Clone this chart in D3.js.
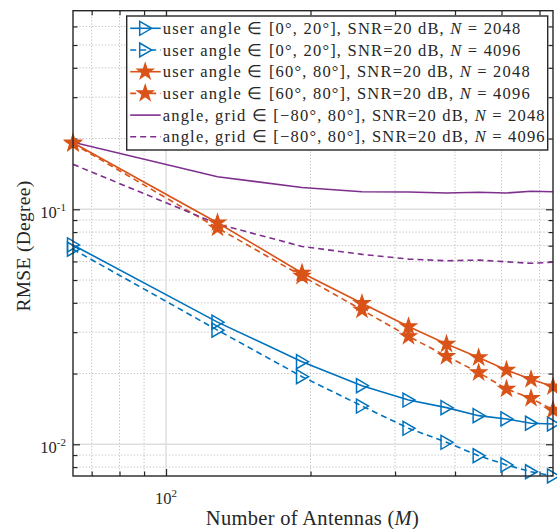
<!DOCTYPE html>
<html>
<head>
<meta charset="utf-8">
<script src="https://cdn.jsdelivr.net/npm/d3@7"></script>
<style>
  html, body { margin: 0; padding: 0; background: #fff; }
  svg { display: block; }
  text { font-family: "Liberation Serif", "Times New Roman", serif; fill: #262626; }
</style>
</head>
<body>
<svg id="chart" width="557" height="529"></svg>
<script>
// Number of antennas M
const antennas = [64, 128, 192, 256, 320, 384, 448, 512, 576, 640];

// RMSE (degree) per configuration
const user0to20_N2048  = [0.0705, 0.0331, 0.02247, 0.01776, 0.01543, 0.01432, 0.01324, 0.01282, 0.01229, 0.0122];
const user0to20_N4096  = [0.0676, 0.0306, 0.0194, 0.01455, 0.0117, 0.0102, 0.00894, 0.00817, 0.00764, 0.00733];
const user60to80_N2048 = [0.192, 0.0877, 0.0536, 0.0398, 0.0317, 0.0267, 0.0234, 0.0207, 0.0189, 0.0176];
const user60to80_N4096 = [0.1905, 0.0833, 0.052, 0.0373, 0.0288, 0.0237, 0.0202, 0.0172, 0.0157, 0.014];
const grid80_N2048     = [0.1928, 0.1376, 0.1238, 0.1188, 0.1185, 0.1173, 0.1181, 0.1173, 0.1193, 0.1188];
const grid80_N4096     = [0.1554, 0.0866, 0.0695, 0.0643, 0.0614, 0.0604, 0.0608, 0.0598, 0.0589, 0.0595];

// Legend entries (segments flagged italic are math variables)
const legendLabels = [
  [{t: "user angle \u2208 [0\u00b0, 20\u00b0], SNR=20 dB, "}, {t: "N", i: true}, {t: " = 2048"}],
  [{t: "user angle \u2208 [0\u00b0, 20\u00b0], SNR=20 dB, "}, {t: "N", i: true}, {t: " = 4096"}],
  [{t: "user angle \u2208 [60\u00b0, 80\u00b0], SNR=20 dB, "}, {t: "N", i: true}, {t: " = 2048"}],
  [{t: "user angle \u2208 [60\u00b0, 80\u00b0], SNR=20 dB, "}, {t: "N", i: true}, {t: " = 4096"}],
  [{t: "angle, grid \u2208 [\u221280\u00b0, 80\u00b0], SNR=20 dB, "}, {t: "N", i: true}, {t: " = 2048"}],
  [{t: "angle, grid \u2208 [\u221280\u00b0, 80\u00b0], SNR=20 dB, "}, {t: "N", i: true}, {t: " = 4096"}]
];

// Axis tick labels
const xTickLabels = [{v: 100, base: "10", exp: "2"}];
const yTickLabels = [{v: 0.1, base: "10", exp: "-1"}, {v: 0.01, base: "10", exp: "-2"}];
const xMinorTicks = [70, 80, 90, 200, 300, 400, 500, 600];
const yMinorTicks = [0.008, 0.009, 0.02, 0.03, 0.04, 0.05, 0.06, 0.07, 0.08, 0.09, 0.2, 0.3, 0.4, 0.5, 0.6];
const xLabel = [{t: "Number of Antennas ("}, {t: "M", i: true}, {t: ")"}];
const yLabel = "RMSE (Degree)";

const blue = "#0072BD", orange = "#D95319", purple = "#7E2F8E";
const series = [
  {values: user0to20_N2048,  color: blue,   dash: null,  marker: "tri"},
  {values: user0to20_N4096,  color: blue,   dash: "6,4", marker: "tri"},
  {values: user60to80_N2048, color: orange, dash: null,  marker: "star"},
  {values: user60to80_N4096, color: orange, dash: "6,4", marker: "star"},
  {values: grid80_N2048,     color: purple, dash: null,  marker: null},
  {values: grid80_N4096,     color: purple, dash: "6,4", marker: null}
];

const svg = d3.select("#chart");
const plot = {left: 73, right: 553, top: 10.7, bottom: 476};

const x = d3.scaleLog().domain([64, 640]).range([plot.left, plot.right]);
const y = d3.scaleLog().domain([0.00733, 0.7]).range([plot.bottom, plot.top]);

svg.append("defs").append("clipPath").attr("id", "clip")
  .append("rect").attr("x", plot.left).attr("y", plot.top)
  .attr("width", plot.right - plot.left).attr("height", plot.bottom - plot.top);

// Grid: minor dotted, major solid
const grid = svg.append("g");
grid.selectAll(".gx").data(xMinorTicks).join("line")
  .attr("x1", d => x(d)).attr("x2", d => x(d)).attr("y1", plot.top).attr("y2", plot.bottom)
  .attr("stroke", "#bdbdbd").attr("stroke-width", 1).attr("stroke-dasharray", "1.2,2");
grid.selectAll(".gy").data(yMinorTicks).join("line")
  .attr("y1", d => y(d)).attr("y2", d => y(d)).attr("x1", plot.left).attr("x2", plot.right)
  .attr("stroke", "#bdbdbd").attr("stroke-width", 1).attr("stroke-dasharray", "1.2,2");
grid.selectAll(".gX").data(xTickLabels).join("line")
  .attr("x1", d => x(d.v)).attr("x2", d => x(d.v)).attr("y1", plot.top).attr("y2", plot.bottom)
  .attr("stroke", "#dedede").attr("stroke-width", 1.5);
grid.selectAll(".gY").data(yTickLabels).join("line")
  .attr("y1", d => y(d.v)).attr("y2", d => y(d.v)).attr("x1", plot.left).attr("x2", plot.right)
  .attr("stroke", "#dedede").attr("stroke-width", 1.5);

// Axes with inward ticks on all four sides
function tickAxis(axisGen, tf) {
  const g = svg.append("g").attr("transform", tf).call(axisGen);
  g.selectAll("text").remove();
  g.select(".domain").remove();
  g.selectAll("line").attr("stroke", "#262626").attr("stroke-width", 1.2);
  return g;
}
const xMaj = xTickLabels.map(d => d.v), yMaj = yTickLabels.map(d => d.v);
tickAxis(d3.axisBottom(x).tickValues(xMinorTicks).tickSize(-4.5), `translate(0,${plot.bottom})`);
tickAxis(d3.axisBottom(x).tickValues(xMaj).tickSize(-7), `translate(0,${plot.bottom})`);
tickAxis(d3.axisTop(x).tickValues(xMinorTicks).tickSize(-4.5), `translate(0,${plot.top})`);
tickAxis(d3.axisTop(x).tickValues(xMaj).tickSize(-7), `translate(0,${plot.top})`);
tickAxis(d3.axisLeft(y).tickValues(yMinorTicks).tickSize(-4.5), `translate(${plot.left},0)`);
tickAxis(d3.axisLeft(y).tickValues(yMaj).tickSize(-7), `translate(${plot.left},0)`);
tickAxis(d3.axisRight(y).tickValues(yMinorTicks).tickSize(-4.5), `translate(${plot.right},0)`);
tickAxis(d3.axisRight(y).tickValues(yMaj).tickSize(-7), `translate(${plot.right},0)`);

// Series lines
const line = d3.line().x((d, i) => x(antennas[i])).y(d => y(d));
const lines = svg.append("g").attr("clip-path", "url(#clip)");
series.forEach(s => {
  lines.append("path").datum(s.values)
    .attr("d", line).attr("fill", "none")
    .attr("stroke", s.color).attr("stroke-width", 1.6)
    .attr("stroke-dasharray", s.dash);
});

// Markers
const triPath = "M-5.5,-7L6.5,0L-5.5,7Z";
const starPath = d3.symbol(d3.symbolStar, 80)();
function drawMarker(g, kind, color) {
  if (kind === "tri") {
    g.append("path").attr("d", triPath).attr("fill", "none")
      .attr("stroke", color).attr("stroke-width", 1.5).attr("stroke-linejoin", "miter");
  } else if (kind === "star") {
    g.append("path").attr("d", starPath).attr("fill", color)
      .attr("stroke", color).attr("stroke-width", 1.2).attr("stroke-linejoin", "miter");
  }
}
const marks = svg.append("g");
series.forEach(s => {
  if (!s.marker) return;
  s.values.forEach((v, i) => {
    const g = marks.append("g").attr("transform", `translate(${x(antennas[i])},${y(v)})`);
    drawMarker(g, s.marker, s.color);
  });
});

// Axes box
svg.append("rect")
  .attr("x", plot.left).attr("y", plot.top)
  .attr("width", plot.right - plot.left).attr("height", plot.bottom - plot.top)
  .attr("fill", "none").attr("stroke", "#262626").attr("stroke-width", 1.4);

// Tick labels with superscript exponents
function powLabel(sel, d) {
  sel.append("tspan").text(d.base);
  sel.append("tspan").attr("dy", -7).attr("font-size", 11).text(d.exp);
}
svg.selectAll(".xtl").data(xTickLabels).join("text")
  .attr("x", d => x(d.v)).attr("y", 504).attr("text-anchor", "middle")
  .attr("font-size", 16.5).each(function(d) { powLabel(d3.select(this), d); });
svg.selectAll(".ytl").data(yTickLabels).join("text")
  .attr("x", 66).attr("y", d => y(d.v) + 9).attr("text-anchor", "end")
  .attr("font-size", 16.5).each(function(d) { powLabel(d3.select(this), d); });

// Axis titles
const xl = svg.append("text").attr("x", 312.5).attr("y", 525).attr("text-anchor", "middle")
  .attr("font-size", 20.5).attr("letter-spacing", 0.3);
xLabel.forEach(s => xl.append("tspan").attr("font-style", s.i ? "italic" : null).text(s.t));
svg.append("text").attr("transform", `translate(30,246) rotate(-90)`)
  .attr("text-anchor", "middle").attr("font-size", 19.5).attr("letter-spacing", 0.3).text(yLabel);

// Legend
const leg = {x: 126.7, y: 16, w: 421, h: 134, row: 21.7};
const lg = svg.append("g");
lg.append("rect").attr("x", leg.x).attr("y", leg.y).attr("width", leg.w).attr("height", leg.h)
  .attr("fill", "#fff").attr("stroke", "#262626").attr("stroke-width", 1.4);
series.forEach((s, i) => {
  const cy = leg.y + 12.3 + i * leg.row;
  lg.append("line").attr("x1", leg.x + 3.5).attr("x2", leg.x + 34).attr("y1", cy).attr("y2", cy)
    .attr("stroke", s.color).attr("stroke-width", 1.6).attr("stroke-dasharray", s.dash);
  if (s.marker) {
    const g = lg.append("g").attr("transform", `translate(${leg.x + 18.5},${cy})`);
    drawMarker(g, s.marker, s.color);
  }
  const t = lg.append("text").attr("x", leg.x + 36).attr("y", cy + 5.5)
    .attr("font-size", 16.5).attr("letter-spacing", 1.2);
  legendLabels[i].forEach(seg => t.append("tspan").attr("font-style", seg.i ? "italic" : null).text(seg.t));
});
</script>
</body>
</html>
